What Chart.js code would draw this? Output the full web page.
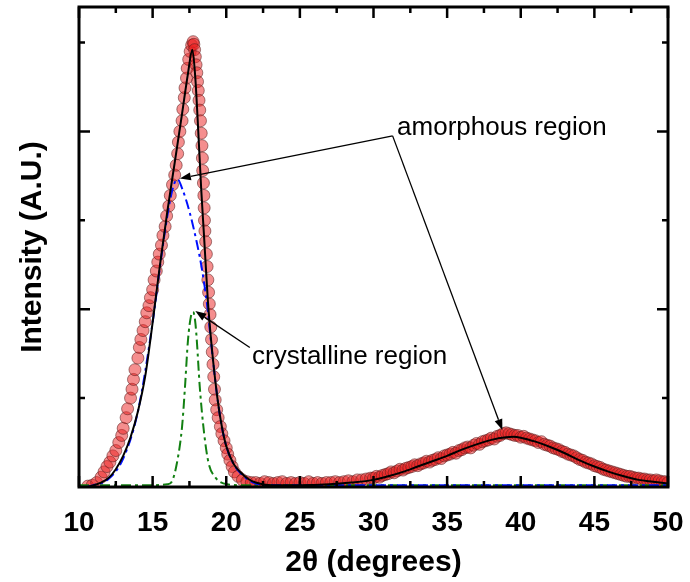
<!DOCTYPE html>
<html>
<head>
<meta charset="utf-8">
<script src="https://cdn.jsdelivr.net/npm/chart.js@4.4.1/dist/chart.umd.min.js"></script>
<style>
  html, body { margin: 0; padding: 0; background: #fff; }
  #wrap { width: 690px; height: 582px; }
</style>
</head>
<body>
<div id="wrap"><canvas id="xrd"></canvas></div>
<script>
// measured XRD pattern (2theta in degrees, intensity in arbitrary units)
const pointsX = [10.6, 10.9, 11.2, 11.5, 11.7, 11.9, 12.1, 12.3, 12.5, 12.7, 12.9, 13.0, 13.2, 13.3, 13.5, 13.6, 13.7, 13.8, 14.0, 14.1,
  14.2, 14.35, 14.5, 14.6, 14.75, 14.85, 15.0, 15.1, 15.25, 15.35, 15.45, 15.6, 15.7, 15.85, 15.95, 16.1, 16.2, 16.35, 16.5, 16.6,
  16.7, 16.75, 16.85, 17.0, 17.05, 17.15, 17.2, 17.3, 17.35, 17.45, 17.55, 17.65, 17.75, 17.8, 17.85, 17.9, 17.95, 18.0, 18.05, 18.1,
  18.15, 18.2, 18.25, 18.3, 18.35, 18.38, 18.4, 18.45, 18.48, 18.5, 18.52, 18.55, 18.6, 18.65, 18.7, 18.75, 18.8, 18.85, 18.9, 18.95,
  19.0, 19.05, 19.1, 19.15, 19.2, 19.25, 19.35, 19.45, 19.6, 19.7, 19.85, 20.0, 20.1, 20.25, 20.4, 20.55, 20.8, 21.1, 21.4, 21.7,
  22.0, 22.3, 22.6, 22.9, 23.2, 23.5, 23.8, 24.1, 24.4, 24.7, 25.0, 25.3, 25.6, 25.9, 26.2, 26.5, 26.8, 27.1, 27.4, 27.7,
  28.0, 28.3, 28.6, 28.9, 29.2, 29.5, 29.8, 30.0, 30.2, 30.4, 30.6, 30.8, 31.0, 31.2, 31.4, 31.6, 31.8, 32.0, 32.2, 32.4,
  32.6, 32.8, 33.0, 33.2, 33.4, 33.6, 33.8, 34.0, 34.2, 34.4, 34.6, 34.8, 35.0, 35.2, 35.4, 35.6, 35.8, 36.0, 36.2, 36.4,
  36.6, 36.8, 37.0, 37.2, 37.4, 37.6, 37.8, 38.0, 38.2, 38.4, 38.6, 38.8, 39.0, 39.2, 39.4, 39.6, 39.8, 40.0, 40.2, 40.4,
  40.6, 40.8, 41.0, 41.2, 41.4, 41.6, 41.8, 42.0, 42.2, 42.4, 42.6, 42.8, 43.0, 43.2, 43.4, 43.6, 43.8, 44.0, 44.2, 44.4,
  44.6, 44.8, 45.0, 45.2, 45.4, 45.6, 45.8, 46.0, 46.2, 46.4, 46.6, 46.8, 47.0, 47.2, 47.4, 47.6, 47.8, 48.0, 48.2, 48.4,
  48.6, 48.8, 49.0, 49.2, 49.4, 49.6, 49.8, 50.0];
const pointsY = [0.01, 0.02, 0.05, 0.11, 0.17, 0.23, 0.28, 0.35, 0.41, 0.50, 0.58, 0.66, 0.78, 0.88, 1.00, 1.10, 1.21, 1.32, 1.45, 1.57,
  1.66, 1.76, 1.86, 1.96, 2.04, 2.13, 2.22, 2.33, 2.43, 2.53, 2.62, 2.72, 2.83, 2.93, 3.05, 3.16, 3.28, 3.40, 3.51, 3.62,
  3.75, 3.88, 4.00, 4.12, 4.25, 4.38, 4.49, 4.60, 4.71, 4.81, 4.90, 4.97, 5.01, 4.98, 4.92, 4.84, 4.75, 4.66, 4.56, 4.46,
  4.35, 4.24, 4.12, 3.98, 3.84, 3.70, 3.56, 3.42, 3.28, 3.14, 3.00, 2.88, 2.76, 2.62, 2.48, 2.33, 2.19, 2.06, 1.94, 1.80,
  1.66, 1.52, 1.38, 1.24, 1.10, 0.98, 0.87, 0.78, 0.68, 0.60, 0.52, 0.44, 0.37, 0.30, 0.23, 0.17, 0.12, 0.08, 0.06, 0.05,
  0.05, 0.04, 0.06, 0.05, 0.04, 0.05, 0.06, 0.04, 0.05, 0.04, 0.05, 0.04, 0.06, 0.04, 0.05, 0.04, 0.05, 0.05, 0.06, 0.05,
  0.06, 0.07, 0.06, 0.08, 0.08, 0.09, 0.10, 0.10, 0.12, 0.11, 0.13, 0.14, 0.15, 0.17, 0.16, 0.18, 0.20, 0.19, 0.21, 0.22,
  0.23, 0.25, 0.24, 0.26, 0.27, 0.29, 0.28, 0.30, 0.31, 0.33, 0.32, 0.35, 0.36, 0.37, 0.39, 0.38, 0.41, 0.42, 0.44, 0.45,
  0.44, 0.47, 0.49, 0.48, 0.51, 0.52, 0.53, 0.55, 0.54, 0.57, 0.58, 0.60, 0.61, 0.60, 0.59, 0.58, 0.58, 0.56, 0.57, 0.55,
  0.54, 0.53, 0.52, 0.50, 0.51, 0.48, 0.47, 0.46, 0.44, 0.43, 0.42, 0.40, 0.39, 0.37, 0.36, 0.35, 0.33, 0.31, 0.30, 0.28,
  0.27, 0.26, 0.24, 0.23, 0.22, 0.20, 0.19, 0.18, 0.17, 0.16, 0.15, 0.14, 0.13, 0.12, 0.12, 0.11, 0.10, 0.10, 0.09, 0.09,
  0.08, 0.08, 0.07, 0.08, 0.07, 0.06, 0.06, 0.05];

// total fit (black)
const fitX = [10.6, 11.0, 11.5, 12.0, 12.5, 13.0, 13.5, 14.0, 14.5, 15.0, 15.5, 16.0, 16.5, 17.0, 17.4, 17.7, 17.9, 18.1, 18.3, 18.5,
  18.75, 19.0, 19.4, 19.7, 20.0, 20.5, 21.0, 21.5, 22.0, 23.0, 25.0, 27.0, 28.5, 30.0, 31.0, 32.0, 33.0, 34.0, 35.0, 36.0,
  37.0, 38.0, 39.0, 39.5, 40.0, 41.0, 42.0, 43.0, 44.0, 45.0, 46.0, 47.0, 48.0, 49.0, 50.0];
const fitY = [0.0, 0.02, 0.05, 0.10, 0.20, 0.35, 0.56, 0.85, 1.25, 1.85, 2.50, 3.10, 3.65, 4.20, 4.65, 4.92, 4.60, 4.00, 3.35, 2.80,
  2.10, 1.60, 1.00, 0.68, 0.46, 0.26, 0.16, 0.09, 0.05, 0.02, 0.02, 0.03, 0.05, 0.08, 0.12, 0.17, 0.23, 0.29, 0.35, 0.42,
  0.48, 0.53, 0.56, 0.565, 0.555, 0.51, 0.45, 0.38, 0.30, 0.23, 0.17, 0.12, 0.08, 0.06, 0.04];

// amorphous component (blue dash-dot)
const amorphX = [10.5, 11.0, 12.0, 13.0, 14.0, 15.0, 15.5, 16.0, 16.4, 16.7, 17.0, 17.5, 18.0, 18.35, 18.7, 19.0, 19.4, 19.7, 20.0, 20.5,
  21.0, 21.5, 22.0, 23.0, 50.0];
const amorphY = [0.0, 0.02, 0.09, 0.32, 0.85, 1.85, 2.48, 3.05, 3.38, 3.46, 3.36, 3.10, 2.75, 2.45, 2.05, 1.58, 1.00, 0.68, 0.46, 0.26,
  0.15, 0.08, 0.04, 0.02, 0.02];

// crystalline component (green dash-dot)
const crystX = [10.0, 15.0, 16.0, 16.3, 16.65, 17.0, 17.2, 17.4, 17.6, 17.75, 17.9, 18.0, 18.2, 18.5, 18.8, 19.25, 20.05, 21.0, 50.0];
const crystY = [0.02, 0.02, 0.03, 0.06, 0.27, 0.68, 1.13, 1.65, 1.92, 1.97, 1.85, 1.65, 1.13, 0.60, 0.27, 0.11, 0.03, 0.02, 0.02];

// annotation labels, in data units
const noteText = ['amorphous region', 'crystalline region'];
const noteAt = [[31.6, 4.04], [21.75, 1.46]];
const arrowFrom = [[31.3, 3.95], [31.3, 3.95], [21.6, 1.57]];
const arrowTo = [[16.85, 3.47], [38.75, 0.64], [17.9, 1.98]];

const toXY = (xs, ys) => xs.map((x, i) => ({ x: x, y: ys[i] }));

const FONT = "'Liberation Sans', Arial, Helvetica, sans-serif";

function arrow(ctx, x1, y1, x2, y2) {
  const ang = Math.atan2(y2 - y1, x2 - x1);
  const len = 11, half = 4;
  const bx = x2 - len * Math.cos(ang), by = y2 - len * Math.sin(ang);
  ctx.beginPath();
  ctx.moveTo(x1, y1);
  ctx.lineTo(bx, by);
  ctx.stroke();
  ctx.beginPath();
  ctx.moveTo(x2, y2);
  ctx.lineTo(bx + half * Math.sin(ang), by - half * Math.cos(ang));
  ctx.lineTo(bx - half * Math.sin(ang), by + half * Math.cos(ang));
  ctx.closePath();
  ctx.fill();
}

// frame, inward ticks on all sides, arrows and notes
const decorations = {
  id: 'decorations',
  afterDatasetsDraw(chart) {
    const { ctx, chartArea: a, scales: { x, y } } = chart;
    ctx.save();
    ctx.strokeStyle = '#000';
    ctx.fillStyle = '#000';
    ctx.lineCap = 'butt';

    ctx.lineWidth = 2.5;
    for (let v = 10; v <= 50; v += 2.5) {
      const px = x.getPixelForValue(v);
      const len = v % 5 === 0 ? 11 : 6;
      ctx.beginPath();
      ctx.moveTo(px, a.bottom); ctx.lineTo(px, a.bottom - len);
      ctx.moveTo(px, a.top); ctx.lineTo(px, a.top + len);
      ctx.stroke();
    }
    for (let v = 1; v <= 5; v++) {
      const py = y.getPixelForValue(v);
      const len = v % 2 === 0 ? 11 : 6;
      ctx.beginPath();
      ctx.moveTo(a.left, py); ctx.lineTo(a.left + len, py);
      ctx.moveTo(a.right, py); ctx.lineTo(a.right - len, py);
      ctx.stroke();
    }

    ctx.lineWidth = 3;
    ctx.strokeRect(a.left, a.top, a.right - a.left, a.bottom - a.top);

    ctx.lineWidth = 1.3;
    arrowFrom.forEach((f, i) => {
      const t = arrowTo[i];
      arrow(ctx, x.getPixelForValue(f[0]), y.getPixelForValue(f[1]),
        x.getPixelForValue(t[0]), y.getPixelForValue(t[1]));
    });

    ctx.font = '26px ' + FONT;
    ctx.textAlign = 'left';
    ctx.textBaseline = 'middle';
    noteText.forEach((txt, i) => {
      ctx.fillText(txt, x.getPixelForValue(noteAt[i][0]), y.getPixelForValue(noteAt[i][1]));
    });
    ctx.restore();
  }
};

const lineStyle = {
  showLine: true,
  pointRadius: 0,
  pointHoverRadius: 0,
  borderWidth: 2,
  tension: 0.4,
  cubicInterpolationMode: 'monotone',
  fill: false
};

new Chart(document.getElementById('xrd'), {
  type: 'scatter',
  data: {
    datasets: [
      { label: 'data', data: toXY(pointsX, pointsY), order: 10,
        pointRadius: 6, pointHoverRadius: 6, borderWidth: 1,
        backgroundColor: 'rgba(235, 30, 30, 0.5)', borderColor: 'rgba(90, 30, 30, 0.55)' },
      Object.assign({ label: 'crystalline', data: toXY(crystX, crystY), order: 3,
        borderColor: '#128012', borderDash: [10, 4, 3, 4] }, lineStyle),
      Object.assign({ label: 'amorphous', data: toXY(amorphX, amorphY), order: 2,
        borderColor: '#0010ff', borderDash: [10, 4, 3, 4] }, lineStyle),
      Object.assign({ label: 'fit', data: toXY(fitX, fitY), order: 1,
        borderColor: '#000' }, lineStyle)
    ]
  },
  options: {
    responsive: true,
    maintainAspectRatio: false,
    animation: false,
    layout: { padding: { top: 7, right: 22, left: 0, bottom: 0 } },
    plugins: { legend: { display: false }, tooltip: { enabled: false } },
    scales: {
      x: {
        type: 'linear', min: 10, max: 50,
        grid: { display: false, drawTicks: false },
        border: { display: false },
        ticks: { stepSize: 5, padding: 19, color: '#000', font: { family: FONT, size: 28, weight: 'bold' } },
        title: { display: true, text: '2θ (degrees)', color: '#000', padding: { top: 0, bottom: 1 },
          font: { family: FONT, size: 30, weight: 'bold' } },
        afterFit: s => { s.height = 95; s.paddingLeft = 0; s.paddingRight = 0; }
      },
      y: {
        type: 'linear', min: 0, max: 5.4,
        grid: { display: false, drawTicks: false },
        border: { display: false },
        ticks: { display: false },
        title: { display: true, text: 'Intensity (A.U.)', color: '#000', padding: { top: 15, bottom: 0 },
          font: { family: FONT, size: 30, weight: 'bold' } },
        afterFit: s => { s.width = 79; s.paddingTop = 0; s.paddingBottom = 0; }
      }
    }
  },
  plugins: [decorations]
});
</script>
</body>
</html>
